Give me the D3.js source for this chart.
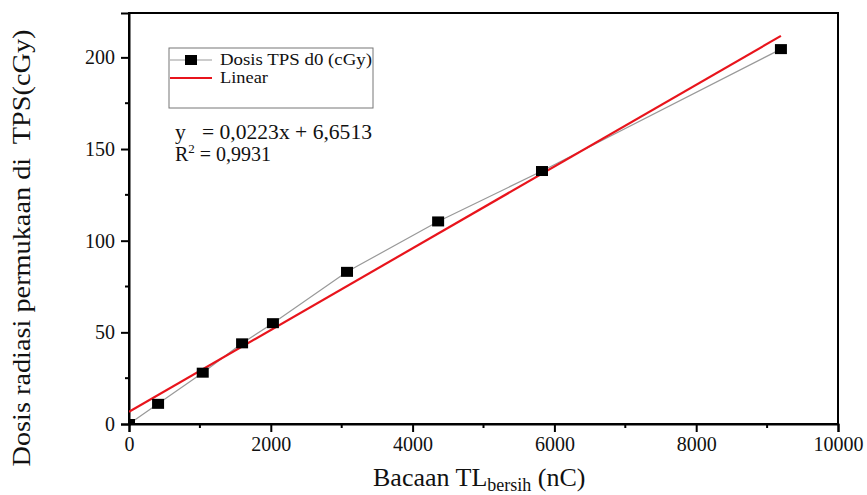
<!DOCTYPE html>
<html lang="en">
<head>
  <meta charset="UTF-8" />
  <title>Dosis TPS vs Bacaan TL</title>
  <style>
    body { margin: 0; background: white; }
    text { font-family: "Liberation Serif", "Times New Roman", serif; fill: #111; white-space: pre; }
  </style>
</head>
<body>
  <svg id="chart" width="867" height="495"></svg>

  <script src="https://d3js.org/d3.v7.min.js"></script>
  <script>
    // data
    const bacaanTL = [0, 410, 1040, 1595, 2030, 3075, 4360, 5825, 9195];
    const dosisTPS = [0, 11, 28, 44, 55, 83, 110.5, 138, 204.5];
    const xTicks = [0, 2000, 4000, 6000, 8000, 10000];
    const yTicks = [0, 50, 100, 150, 200];
    const slope = 0.0223, intercept = 6.6513;

    const svg = d3.select("#chart");
    const pLeft = 129, pRight = 838, pTop = 13, pBottom = 424;

    const x = d3.scaleLinear().domain([0, 10000]).range([pLeft, pRight]);
    const y = d3.scaleLinear().domain([0, 224.2]).range([pBottom, pTop]);

    svg.append("defs").append("clipPath").attr("id", "plot")
      .append("rect").attr("x", pLeft).attr("y", pTop)
      .attr("width", pRight - pLeft).attr("height", pBottom - pTop);

    // frame (top + right)
    svg.append("rect")
      .attr("x", pLeft).attr("y", pTop)
      .attr("width", pRight - pLeft).attr("height", pBottom - pTop)
      .attr("fill", "none").attr("stroke", "#000").attr("stroke-width", 2);

    // minor ticks
    const xMinor = d3.range(1000, 10000, 2000);
    const yMinor = d3.range(25, 224, 50);
    svg.selectAll(".xminor").data(xMinor).enter().append("line")
      .attr("x1", d => x(d)).attr("x2", d => x(d))
      .attr("y1", pBottom).attr("y2", pBottom + 4)
      .attr("stroke", "#000").attr("stroke-width", 2);
    svg.selectAll(".yminor").data(yMinor).enter().append("line")
      .attr("y1", d => y(d)).attr("y2", d => y(d))
      .attr("x1", pLeft).attr("x2", pLeft - 4)
      .attr("stroke", "#000").attr("stroke-width", 2);

    // axes
    const xAxis = svg.append("g").attr("transform", `translate(0,${pBottom})`)
      .call(d3.axisBottom(x).tickValues(xTicks).tickFormat(d3.format("d")).tickSize(8).tickPadding(5));
    const yAxis = svg.append("g").attr("transform", `translate(${pLeft},0)`)
      .call(d3.axisLeft(y).tickValues(yTicks).tickSize(8).tickPadding(6));
    [xAxis, yAxis].forEach(a => {
      a.attr("font-family", "Liberation Serif").attr("font-size", 20);
      a.select(".domain").attr("stroke-width", 2);
      a.selectAll(".tick line").attr("stroke-width", 2);
      a.selectAll(".tick text").attr("fill", "#111");
    });

    const pts = bacaanTL.map((v, i) => ({ x: v, y: dosisTPS[i] }));
    const plot = svg.append("g").attr("clip-path", "url(#plot)");

    // connecting line
    plot.append("path").datum(pts)
      .attr("fill", "none").attr("stroke", "#999").attr("stroke-width", 1.2)
      .attr("d", d3.line().x(d => x(d.x)).y(d => y(d.y)));

    // linear fit
    const fitX = [0, d3.max(bacaanTL)];
    plot.append("path").datum(fitX)
      .attr("fill", "none").attr("stroke", "#e8141c").attr("stroke-width", 2.2)
      .attr("d", d3.line().x(d => x(d)).y(d => y(slope * d + intercept)));

    // markers
    plot.selectAll(".pt").data(pts).enter().append("rect")
      .attr("x", d => x(d.x) - 6).attr("y", d => y(d.y) - 5)
      .attr("width", 12).attr("height", 10).attr("fill", "#000");

    // legend
    const lg = svg.append("g");
    lg.append("rect").attr("x", 169).attr("y", 48).attr("width", 204).attr("height", 60)
      .attr("fill", "white").attr("stroke", "#777").attr("stroke-width", 1);
    lg.append("line").attr("x1", 170).attr("x2", 212).attr("y1", 60).attr("y2", 60)
      .attr("stroke", "#999").attr("stroke-width", 1.2);
    lg.append("rect").attr("x", 185).attr("y", 55).attr("width", 12).attr("height", 10).attr("fill", "#000");
    lg.append("line").attr("x1", 170).attr("x2", 212).attr("y1", 78).attr("y2", 78)
      .attr("stroke", "#e8141c").attr("stroke-width", 2.2);
    lg.append("text").attr("x", 220).attr("y", 65).attr("font-size", "17px")
      .attr("textLength", 152).attr("lengthAdjust", "spacingAndGlyphs").text("Dosis TPS d0 (cGy)");
    lg.append("text").attr("x", 220).attr("y", 83).attr("font-size", "17px")
      .attr("textLength", 48).attr("lengthAdjust", "spacingAndGlyphs").text("Linear");

    // equation
    svg.append("text").attr("x", 175).attr("y", 139).attr("font-size", "20px")
      .attr("textLength", 197).attr("lengthAdjust", "spacingAndGlyphs")
      .text("y   = 0,0223x + 6,6513");
    const r2 = svg.append("text").attr("x", 175).attr("y", 161).attr("font-size", "20px");
    r2.append("tspan").text("R");
    r2.append("tspan").attr("font-size", "13px").attr("dy", -8).text("2");
    r2.append("tspan").attr("dy", 8).text(" = 0,9931");

    // axis titles
    const xt = svg.append("text").attr("x", 373).attr("y", 486).attr("font-size", "26px");
    xt.append("tspan").text("Bacaan TL");
    xt.append("tspan").attr("font-size", "18px").attr("dy", 5).text("bersih");
    xt.append("tspan").attr("dy", -5).text(" (nC)");

    svg.append("text")
      .attr("transform", "translate(30,248) rotate(-90)")
      .attr("text-anchor", "middle").attr("font-size", "26px")
      .attr("textLength", 437).attr("lengthAdjust", "spacingAndGlyphs")
      .text("Dosis radiasi permukaan di  TPS(cGy)");
  </script>
</body>
</html>
